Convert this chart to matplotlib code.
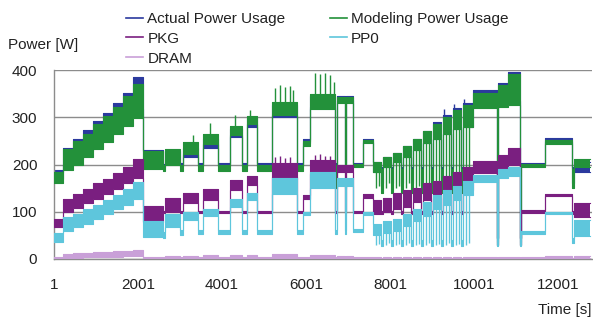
import numpy as np
import matplotlib
matplotlib.use('Agg')
import matplotlib.pyplot as plt
from matplotlib.lines import Line2D

plt.rcParams['font.family'] = ['Liberation Sans', 'DejaVu Sans']

# początki odcinków czasu [s] (wspólne dla wszystkich serii), koniec pomiaru
seg_start = [1, 215, 450, 690, 930, 1170, 1410, 1650, 1890,
             2120, 2600, 2640, 3000, 3080, 3430, 3550, 3906, 4190, 4477, 4596, 4834, 5191, 5787, 5930, 6096, 6692, 6740, 6930, 6960, 7120, 7358,
             7596, 7796, 7834, 8034, 8072, 8272, 8310, 8510, 8548, 8748, 8786, 8986, 9024, 9224, 9262, 9462, 9500, 9700, 9738,
             9977, 10549, 10580, 10800, 11096, 11126, 11692, 12335, 12370]
t_end = 12763

# Actual Power Usage - dolna i górna granica pasma szumu
actual_lo = [170, 200, 212, 228, 245, 262, 280, 300, 318,
             198, 195, 205, 196, 215, 196, 235, 196, 258, 196, 280, 196, 300, 196, 245, 322, 196, 336, 196, 336, 197, 248,
             185, 160, 195, 160, 205, 160, 215, 160, 230, 160, 245, 160, 255, 160, 265, 160, 275, 160, 280,
             325, 30, 330, 335, 30, 198, 248, 160, 185]
actual_hi = [188, 235, 255, 272, 292, 310, 330, 352, 385,
             230, 202, 228, 203, 235, 203, 255, 203, 275, 203, 298, 203, 325, 203, 253, 345, 203, 345, 203, 345, 203, 254,
             205, 195, 215, 195, 225, 195, 240, 195, 255, 195, 270, 195, 290, 195, 305, 195, 320, 195, 330,
             358, 45, 372, 395, 45, 204, 256, 195, 205]

# Modeling Power Usage
model_lo = [160, 188, 200, 215, 232, 248, 265, 282, 298,
            190, 186, 200, 186, 222, 186, 243, 186, 262, 186, 286, 186, 305, 186, 240, 318, 150, 330, 150, 330, 195, 246,
            185, 140, 195, 140, 205, 140, 215, 140, 230, 140, 245, 140, 255, 140, 265, 140, 275, 140, 280,
            320, 30, 322, 325, 30, 195, 244, 150, 195]
model_hi = [185, 232, 250, 265, 285, 302, 322, 345, 370,
            228, 198, 232, 200, 248, 200, 265, 200, 282, 200, 303, 200, 332, 200, 250, 350, 200, 343, 200, 343, 202, 252,
            205, 190, 215, 190, 225, 190, 240, 190, 255, 190, 270, 190, 285, 190, 300, 190, 315, 190, 325,
            352, 45, 368, 392, 45, 202, 252, 190, 212]

# PKG
pkg_lo = [68, 100, 108, 118, 128, 138, 148, 160, 172,
          78, 97, 100, 97, 118, 97, 125, 97, 145, 97, 157, 97, 174, 97, 128, 180, 97, 185, 97, 185, 97, 130,
          95, 95, 100, 95, 105, 95, 110, 95, 120, 95, 125, 95, 130, 95, 135, 95, 140, 95, 145,
          183, 30, 193, 198, 30, 98, 133, 95, 88]
pkg_hi = [85, 128, 138, 148, 160, 170, 182, 195, 212,
          112, 101, 130, 101, 140, 101, 148, 101, 168, 101, 176, 101, 203, 101, 136, 210, 101, 198, 101, 198, 102, 137,
          125, 101, 130, 101, 140, 101, 145, 101, 150, 101, 160, 101, 165, 101, 175, 101, 185, 101, 195,
          208, 45, 220, 235, 45, 103, 138, 101, 118]

# PP0
pp0_lo = [35, 60, 68, 75, 85, 95, 105, 115, 128,
          47, 45, 68, 50, 82, 52, 90, 52, 110, 52, 125, 52, 138, 52, 94, 150, 52, 155, 52, 155, 57, 94,
          50, 28, 55, 28, 60, 28, 70, 28, 80, 28, 90, 28, 105, 28, 115, 28, 125, 28, 135,
          162, 28, 172, 175, 28, 53, 95, 33, 48]
pp0_hi = [55, 88, 96, 105, 115, 125, 135, 148, 162,
          80, 58, 95, 62, 100, 62, 105, 62, 126, 62, 140, 62, 172, 62, 100, 185, 62, 172, 62, 172, 63, 100,
          75, 40, 80, 40, 85, 40, 95, 40, 105, 40, 120, 40, 135, 40, 145, 40, 155, 40, 165,
          178, 35, 190, 195, 35, 60, 100, 45, 82]

# DRAM
dram_lo = [1, 3, 3, 4, 4, 5, 5, 6, 7,
           1, 1, 1, 1, 1, 1, 1, 1, 1, 1, 1, 1, 1, 1, 1, 1, 1, 1, 1, 1, 1, 1,
           1, 1, 1, 1, 1, 1, 1, 1, 1, 1, 1, 1, 1, 1, 1, 1, 1, 1, 1,
           1, 1, 1, 1, 1, 1, 2, 1, 2]
dram_hi = [4, 11, 12, 13, 14, 15, 16, 17, 19,
           5, 4, 6, 4, 7, 4, 8, 4, 9, 4, 9, 4, 10, 5, 5, 9, 5, 7, 4, 7, 5, 4,
           4, 3, 4, 3, 4, 3, 4, 3, 4, 3, 4, 3, 4, 3, 4, 3, 4, 3, 4,
           5, 3, 4, 4, 3, 4, 7, 3, 7]

# pojedyncze piki w górę
model_spike_t = [3300, 3715, 4310, 4668, 5263, 5382, 5501, 5620, 5692, 6215, 6334, 6453, 6572, 6660]
model_spike_top = [262, 288, 305, 315, 362, 368, 365, 366, 358, 393, 392, 394, 390, 375]
pkg_spike_t = [5263, 5382, 5501, 5620, 6215, 6334, 6453, 6572]
pkg_spike_top = [215, 217, 214, 216, 220, 222, 219, 218]
actual_spike_t = [9290, 9530, 9770]
actual_spike_top = [318, 328, 338]

# spadki w dół w części 8001-10001
drop_t = [7666, 7736, 7904, 7974, 8142, 8212, 8380, 8450, 8618, 8688,
          8856, 8926, 9094, 9164, 9332, 9402, 9570, 9640, 9808, 9878]
model_drop_low = [150, 155, 150, 160, 150, 155, 150, 160, 150, 155,
                  150, 160, 150, 155, 150, 160, 150, 155, 150, 160]
pp0_drop_low = [30, 32, 30, 33, 30, 32, 30, 33, 30, 32,
                30, 33, 30, 32, 30, 33, 30, 32, 30, 33]

x_ticks = [1, 2001, 4001, 6001, 8001, 10001, 12001]
y_ticks = [0, 100, 200, 300, 400]

c_actual = '#2b3a9e'
c_model = '#23913a'
c_pkg = '#7a1f80'
c_pp0 = '#5ec6dc'
c_dram = '#c9a0d8'

edges = np.append(seg_start, t_end)


def band(ax, lo, hi, color, z):
    y_lo = np.append(lo, lo[-1])
    y_hi = np.append(hi, hi[-1])
    ax.fill_between(edges, y_lo, y_hi, step='post', color=color, lw=0, zorder=z)
    ax.step(edges, y_hi, where='post', color=color, lw=0.8, zorder=z)
    ax.step(edges, y_lo, where='post', color=color, lw=0.8, zorder=z)


def level_at(ts, values):
    idx = np.searchsorted(seg_start, ts, side='right') - 1
    return np.array(values)[idx]


def spikes(ax, ts, tops, hi, color, z):
    ax.vlines(ts, level_at(ts, hi), tops, color=color, lw=1.0, zorder=z)


def drops(ax, ts, lows, lo, color, z):
    ax.vlines(ts, lows, level_at(ts, lo), color=color, lw=1.0, zorder=z)


fig = plt.figure(figsize=(5.93, 3.2), dpi=100)
ax = fig.add_axes([54 / 593, 61 / 320, 538 / 593, 189 / 320])

band(ax, actual_lo, actual_hi, c_actual, 2)
spikes(ax, actual_spike_t, actual_spike_top, actual_hi, c_actual, 2)
band(ax, model_lo, model_hi, c_model, 3)
spikes(ax, model_spike_t, model_spike_top, model_hi, c_model, 3)
drops(ax, drop_t, model_drop_low, model_lo, c_model, 3)
band(ax, pkg_lo, pkg_hi, c_pkg, 4)
spikes(ax, pkg_spike_t, pkg_spike_top, pkg_hi, c_pkg, 4)
band(ax, pp0_lo, pp0_hi, c_pp0, 5)
drops(ax, drop_t, pp0_drop_low, pp0_lo, c_pp0, 5)
band(ax, dram_lo, dram_hi, c_dram, 6)

ax.set_xlim(1, 12810)
ax.set_ylim(0, 400)
ax.set_xticks(x_ticks)
ax.set_xticklabels([str(t) for t in x_ticks])
ax.set_yticks(y_ticks)
ax.tick_params(axis='both', length=0, labelsize=11, colors='#222222')
ax.tick_params(axis='x', pad=14)
ax.tick_params(axis='y', pad=12)
ax.grid(axis='y', color='#8c8c8c', lw=1.0, zorder=1)
ax.set_axisbelow(True)
for s in ['top', 'right']:
    ax.spines[s].set_visible(False)
for s in ['left', 'bottom']:
    ax.spines[s].set_color('#8c8c8c')
    ax.spines[s].set_linewidth(1.0)

fig.text(8 / 593, 1 - 45 / 320, 'Power [W]', fontsize=11, color='#222222', va='center', ha='left')
fig.text(592 / 593, 1 - 310 / 320, 'Time [s]', fontsize=11, color='#222222', va='center', ha='right')

handles = [Line2D([], [], color=c_actual, lw=1.2),
           Line2D([], [], color=c_pkg, lw=1.2),
           Line2D([], [], color=c_dram, lw=1.2),
           Line2D([], [], color=c_model, lw=1.2),
           Line2D([], [], color=c_pp0, lw=1.2)]
labels = ['Actual Power Usage', 'PKG', 'DRAM', 'Modeling Power Usage', 'PP0']
fig.legend(handles, labels, loc='upper left', bbox_to_anchor=(126 / 593, 1 - 12 / 320),
           ncol=2, frameon=False, fontsize=11, handlelength=1.1, handletextpad=0.3,
           columnspacing=2.9, labelspacing=0.38, borderpad=0, borderaxespad=0,
           labelcolor='#222222')

fig.savefig('out.png', dpi=100)
